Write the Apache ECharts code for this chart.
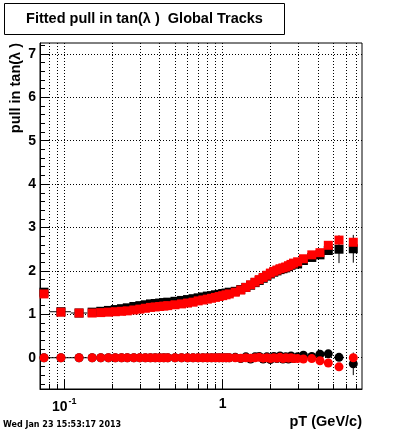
<!DOCTYPE html>
<html>
<head>
<meta charset="utf-8">
<script src="https://cdn.jsdelivr.net/npm/echarts@6/dist/echarts.min.js"></script>
<style>
html,body{margin:0;padding:0;background:#fff;}
#chart{width:400px;height:433px;}
</style>
</head>
<body>
<div id="chart"></div>
<script>
// ---- data (pT in GeV/c) ----
const ptBins = [0.0745,0.0953,0.124,
  0.15,0.17,0.19,0.21,0.23,0.25,
  0.275,0.3,0.325,0.35,0.375,0.4,0.425,0.45,
  0.5,0.55,0.6,0.65,0.7,0.75,0.8,0.85,0.9,0.95,1.0,
  1.05,1.1,
  1.2,1.3,1.4,1.5,1.6,1.7,1.8,1.9,2.0,2.1,2.2,2.3,2.4,2.5,2.6,2.7,2.8,
  2.97,3.23,3.65,4.11,4.64,5.42,6.67];

const redMean = [1.47,1.05,1.03,
  1.03,1.04,1.05,1.06,1.07,1.08,
  1.10,1.12,1.14,1.16,1.17,1.18,1.19,1.20,
  1.22,1.24,1.26,1.28,1.31,1.33,1.35,1.37,1.39,1.41,1.43,
  1.45,1.47,
  1.51,1.56,1.62,1.68,1.74,1.80,1.85,1.90,1.95,1.99,2.02,2.05,2.07,2.09,2.12,2.15,2.18,
  2.21,2.28,2.37,2.42,2.59,2.71,2.66];

const blackMean = [1.51,1.06,1.03,
  1.05,1.07,1.09,1.11,1.13,1.15,
  1.18,1.20,1.22,1.24,1.25,1.26,1.27,1.28,
  1.30,1.32,1.34,1.36,1.38,1.40,1.42,1.43,1.45,1.46,1.48,
  1.49,1.51,
  1.53,1.57,1.62,1.67,1.73,1.78,1.83,1.88,1.93,1.97,2.00,2.03,2.05,2.07,2.10,2.13,2.16,
  2.16,2.24,2.31,2.37,2.47,2.50,2.51];

const redZero = [0.0,0.0,0.0,
  0.0,0.0,0.0,0.0,0.0,0.0,
  0.0,0.0,0.0,0.0,0.0,0.0,0.0,0.0,
  0.0,0.0,0.0,0.0,0.0,0.0,0.0,0.0,0.0,0.0,0.0,
  0.0,0.0,
  0.0,-0.01,0.0,-0.01,0.0,0.01,-0.01,0.0,-0.02,0.0,-0.01,0.01,-0.02,0.0,-0.01,0.0,-0.02,
  -0.02,-0.03,-0.02,-0.07,-0.12,-0.21,0.0];

const blackZero = [0.0,0.0,0.0,
  0.0,0.0,0.0,0.0,0.0,0.0,
  0.0,0.0,0.0,0.0,0.0,0.0,0.0,0.0,
  0.0,0.0,0.0,0.0,0.0,0.0,0.0,0.0,0.0,0.0,0.0,
  0.0,0.0,
  0.01,-0.02,0.02,-0.03,0.02,0.03,-0.03,0.02,-0.04,0.03,-0.02,0.04,-0.03,0.02,-0.03,0.04,-0.02,
  0.02,0.06,0.03,0.08,0.09,0.01,-0.14];

// horizontal (x) error bars of the first black points
const xErrPt = [0.0745,0.0953,0.124];
const xErrLo = [0.0703,0.0804,0.110];
const xErrHi = [0.0804,0.110,0.140];
// vertical error bars of the last black points
const yErrPt = [5.42,6.67];
const yErrMean = [0.32,0.32];
const yErrZero = [0.0,0.26];

// ---- axis ticks ----
const xMajorTicks = [0.1, 1];
const xMinorTicks = [0.08,0.09,0.2,0.3,0.4,0.5,0.6,0.7,0.8,0.9,2,3,4,5,6,7];
const yMajorTicks = [0,1,2,3,4,5,6,7];
const yRange = [-0.72, 7.25];
const xRange = [0.0703, 7.57];

const titleText = 'Fitted pull in tan(\u03bb )  Global Tracks';
const yTitle = 'pull in tan(\u03bb )';
const xTitle = 'pT (GeV/c)';
const stamp = 'Wed Jan 23 15:53:17 2013';

const L = Math.log10;
const yMinorTicks = [];
for (let k = Math.ceil(yRange[0]*5); k <= Math.floor(yRange[1]*5); k++) {
  if (k % 5 !== 0) yMinorTicks.push(+(k/5).toFixed(2));
}

function pts(ys) { return ptBins.map((p,i)=>[L(p), ys[i]]); }

const errData = [];
xErrPt.forEach((p,i)=>{
  errData.push([L(p), blackMean[i], L(xErrLo[i]), L(xErrHi[i]), blackMean[i], blackMean[i]]);
  errData.push([L(p), blackZero[i], L(xErrLo[i]), L(xErrHi[i]), blackZero[i], blackZero[i]]);
});
yErrPt.forEach((p,i)=>{
  const j = ptBins.indexOf(p);
  errData.push([L(p), blackMean[j], L(p), L(p), blackMean[j]-yErrMean[i], blackMean[j]+yErrMean[i]]);
  if (yErrZero[i] > 0) errData.push([L(p), blackZero[j], L(p), L(p), blackZero[j]-yErrZero[i], blackZero[j]+yErrZero[i]]);
});

const FONT = 'Liberation Sans';
const dotted = {show:true, lineStyle:{color:'#000', width:1, type:[1,2]}};
const mk = (name, ys, sym, color, z) => ({type:'scatter', name, xAxisIndex:0, yAxisIndex:0, data:pts(ys),
  symbol:sym, symbolSize:9, itemStyle:{color, opacity:1}, emphasis:{disabled:true}, z});

const chart = echarts.init(document.getElementById('chart'), null, {renderer:'canvas'});
chart.setOption({
  animation:false,
  backgroundColor:'#fff',
  grid:{left:40, right:38, top:43, bottom:44, show:true, borderColor:'#000', borderWidth:1, backgroundColor:'transparent', containLabel:false, outerBoundsMode:'none'},
  xAxis:[
    {type:'value', position:'bottom', min:L(xRange[0]), max:L(xRange[1]),
     axisLine:{show:true, onZero:false, lineStyle:{color:'#000', width:1}},
     axisTick:{show:true, inside:true, length:9, customValues:xMajorTicks.map(L), lineStyle:{color:'#000'}},
     axisLabel:{show:true, customValues:xMajorTicks.map(L), margin:8, color:'#000',
       fontFamily:FONT, fontWeight:'bold', fontSize:14,
       formatter:(v)=> Math.abs(v+1)<1e-6 ? '{b|10}{s|-1}' : '{b|'+Math.round(Math.pow(10,v))+'}',
       rich:{b:{fontFamily:FONT, fontWeight:'bold', fontSize:14, color:'#000'},
             s:{fontFamily:FONT, fontWeight:'bold', fontSize:9, color:'#000', padding:[0,0,11,1]}}},
     splitLine:dotted},
    {type:'value', position:'bottom', min:L(xRange[0]), max:L(xRange[1]),
     axisLine:{show:false, onZero:false},
     axisTick:{show:true, inside:true, length:5, customValues:xMinorTicks.map(L), lineStyle:{color:'#000'}},
     axisLabel:{show:false},
     splitLine:dotted}
  ],
  yAxis:[
    {type:'value', position:'left', min:yRange[0], max:yRange[1],
     axisLine:{show:true, onZero:false, lineStyle:{color:'#000', width:1}},
     axisTick:{show:true, inside:true, length:9, customValues:yMajorTicks, lineStyle:{color:'#000'}},
     axisLabel:{show:true, customValues:yMajorTicks, margin:4, color:'#000', fontFamily:FONT, fontWeight:'bold', fontSize:14},
     splitLine:dotted},
    {type:'value', position:'left', min:yRange[0], max:yRange[1],
     axisLine:{show:false, onZero:false},
     axisTick:{show:true, inside:true, length:5, customValues:yMinorTicks, lineStyle:{color:'#000'}},
     axisLabel:{show:false},
     splitLine:{show:false}}
  ],
  series:[
    {type:'custom', xAxisIndex:0, yAxisIndex:0, data:errData, z:1,
     renderItem:(params, api)=>{
       const x=api.value(0), y=api.value(1);
       const a=api.coord([api.value(2), y]), b=api.coord([api.value(3), y]);
       const c=api.coord([x, api.value(4)]), d=api.coord([x, api.value(5)]);
       const st={stroke:'#000', lineWidth:1};
       return {type:'group', children:[
         {type:'line', shape:{x1:a[0],y1:a[1],x2:b[0],y2:b[1]}, style:st},
         {type:'line', shape:{x1:c[0],y1:c[1],x2:d[0],y2:d[1]}, style:st}
       ]};
     }},
    mk('black mean', blackMean, 'rect', '#000000', 2),
    mk('black zero', blackZero, 'circle', '#000000', 2),
    mk('red mean', redMean, 'rect', '#ff0000', 3),
    mk('red zero', redZero, 'circle', '#ff0000', 3)
  ],
  graphic:[
    {type:'rect', shape:{x:4.5, y:3.5, width:280, height:31}, style:{fill:'#fff', stroke:'#000', lineWidth:1}},
    {type:'text', x:144.5, y:19, style:{text:titleText, fill:'#000', font:'bold 14.5px "Liberation Sans"', align:'center', verticalAlign:'middle'}},
    {type:'text', x:16, y:43, rotation:Math.PI/2, style:{text:yTitle, fill:'#000', font:'bold 14.5px "Liberation Sans"', align:'right', verticalAlign:'middle'}},
    {type:'text', x:362, y:422, style:{text:xTitle, fill:'#000', font:'bold 14.5px "Liberation Sans"', align:'right', verticalAlign:'middle'}},
    {type:'text', x:3, y:425, style:{text:stamp, fill:'#000', font:'bold 8px "DejaVu Sans"', align:'left', verticalAlign:'middle'}}
  ]
});
</script>
</body>
</html>
